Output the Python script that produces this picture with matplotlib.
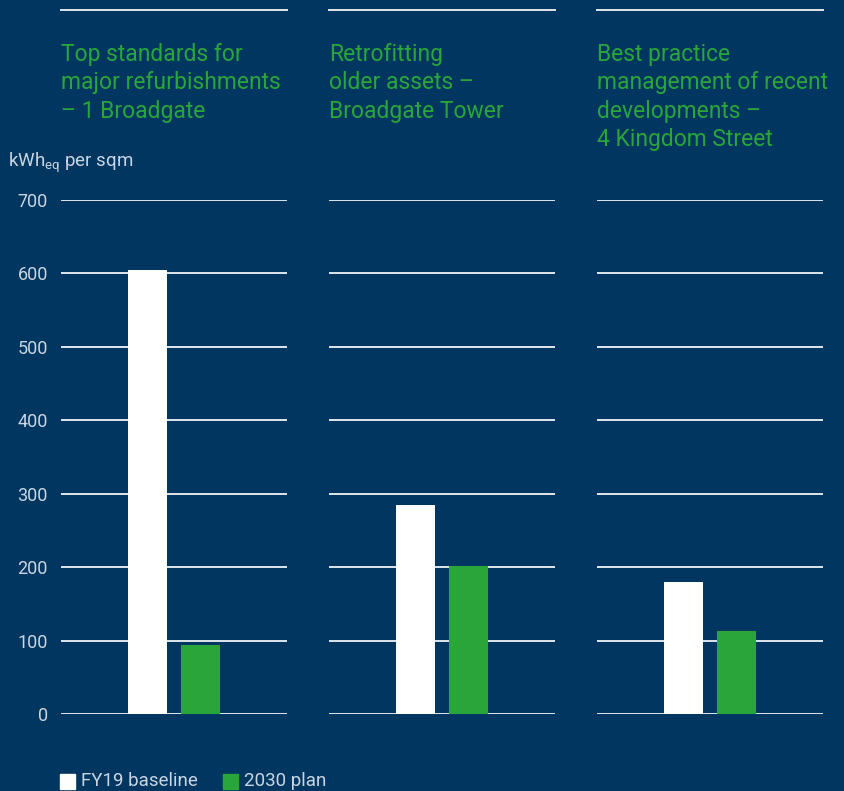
import matplotlib.pyplot as plt
from matplotlib.patches import Rectangle

# values (kWh_eq per sqm)
panel_titles = [
    "Top standards for\nmajor refurbishments\n– 1 Broadgate",
    "Retrofitting\nolder assets –\nBroadgate Tower",
    "Best practice\nmanagement of recent\ndevelopments –\n4 Kingdom Street",
]
baseline_fy19 = [605, 285, 180]
plan_2030 = [94, 202, 113]
series_names = ["FY19 baseline", "2030 plan"]
yticks = [0, 100, 200, 300, 400, 500, 600, 700]

bg = "#00365f"
green = "#2aa53a"
grid_col = "#dfe5ec"
label_col = "#c9d5e2"

plt.rcParams["font.family"] = ["Roboto", "DejaVu Sans"]
plt.rcParams["mathtext.fontset"] = "custom"
plt.rcParams["mathtext.rm"] = "Roboto"

W, H = 844, 791
fig = plt.figure(figsize=(W / 100, H / 100), dpi=100, facecolor=bg)

lefts = [61, 329, 597]
pw = 226
y0_px, y700_px = 714, 200

for i, left in enumerate(lefts):
    ax = fig.add_axes([left / W, (H - y0_px) / H, pw / W, (y0_px - y700_px) / H])
    ax.set_facecolor(bg)
    ax.set_xlim(-1.632, 2.632)
    ax.set_ylim(0, 700)
    for yv in yticks:
        ax.axhline(yv, color=grid_col, lw=1.4, zorder=1)
    ax.bar([0], [baseline_fy19[i]], width=0.736, color="white", zorder=2)
    ax.bar([1], [plan_2030[i]], width=0.736, color=green, zorder=2)
    for s in ax.spines.values():
        s.set_visible(False)
    ax.set_xticks([])
    ax.set_yticks(yticks)
    ax.tick_params(axis="y", length=0, pad=9.5, labelsize=13, labelcolor=label_col)
    if i > 0:
        ax.set_yticklabels([])
    # top rule above each title
    ytop = (y0_px - 10) / (y0_px - y700_px)
    ax.plot([0, 1], [ytop, ytop], transform=ax.transAxes, color=grid_col,
            lw=1.4, clip_on=False)
    fig.text(left / W, (H - 43) / H, panel_titles[i], color=green, fontsize=16.5,
             ha="left", va="top", linespacing=1.3)

fig.text(8 / W, (H - 163) / H, r"kWh$_{\rm eq}$ per sqm", color=label_col,
         fontsize=13.5, ha="left", va="center")

# legend
sq = 15
for x_px, col, name in [(60, "white", series_names[0]), (223, green, series_names[1])]:
    fig.add_artist(Rectangle((x_px / W, (H - 789) / H), sq / W, sq / H,
                             transform=fig.transFigure, color=col))
    fig.text((x_px + sq + 6) / W, (H - 781) / H, name, color=label_col,
             fontsize=13.5, ha="left", va="center")

fig.savefig("out.png", dpi=100, facecolor=bg)
